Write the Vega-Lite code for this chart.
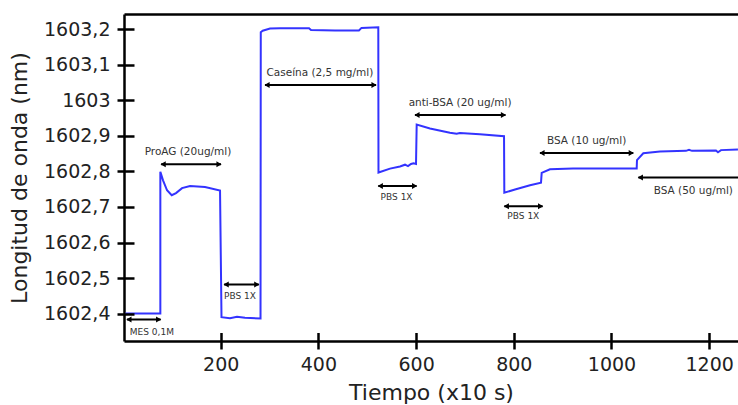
{
  "$schema": "https://vega.github.io/schema/vega-lite/v6.json",
  "width": 614,
  "height": 327,
  "autosize": {"type": "none"},
  "padding": {"left": 124, "top": 14, "right": 0, "bottom": 64},
  "background": "white",
  "config": {
    "view": {"stroke": null},
    "font": "DejaVu Sans",
    "axis": {"grid": false, "domainColor": "black", "tickColor": "black", "labelColor": "#222", "titleColor": "#222", "labelFont": "DejaVu Sans", "titleFont": "DejaVu Sans"}
  },
  "datasets": {
    "trace": [
      {"t": 5, "wl": 1602.4}, {"t": 76.4, "wl": 1602.4}, {"t": 76.4, "wl": 1602.799},
      {"t": 81.9, "wl": 1602.775}, {"t": 90.1, "wl": 1602.747}, {"t": 99.7, "wl": 1602.733},
      {"t": 108.5, "wl": 1602.739}, {"t": 120.8, "wl": 1602.753}, {"t": 137.2, "wl": 1602.759},
      {"t": 167.9, "wl": 1602.756}, {"t": 198.6, "wl": 1602.746}, {"t": 201.6, "wl": 1602.39},
      {"t": 219, "wl": 1602.387}, {"t": 233.4, "wl": 1602.391}, {"t": 249.7, "wl": 1602.388},
      {"t": 281.5, "wl": 1602.386}, {"t": 282, "wl": 1603.192}, {"t": 286, "wl": 1603.196},
      {"t": 300.9, "wl": 1603.202}, {"t": 321.4, "wl": 1603.203}, {"t": 380.8, "wl": 1603.203},
      {"t": 384.8, "wl": 1603.198}, {"t": 434, "wl": 1603.197}, {"t": 483, "wl": 1603.197},
      {"t": 488.2, "wl": 1603.204}, {"t": 522.6, "wl": 1603.206}, {"t": 523, "wl": 1602.797},
      {"t": 546.6, "wl": 1602.808}, {"t": 567, "wl": 1602.814}, {"t": 577.3, "wl": 1602.819},
      {"t": 583.4, "wl": 1602.815}, {"t": 589.6, "wl": 1602.821}, {"t": 594.7, "wl": 1602.823},
      {"t": 599.8, "wl": 1602.821}, {"t": 601.2, "wl": 1602.932}, {"t": 628.4, "wl": 1602.921},
      {"t": 669.3, "wl": 1602.909}, {"t": 683, "wl": 1602.906}, {"t": 689.6, "wl": 1602.908},
      {"t": 730.5, "wl": 1602.905}, {"t": 780, "wl": 1602.899}, {"t": 780.6, "wl": 1602.74},
      {"t": 802.5, "wl": 1602.749}, {"t": 833.2, "wl": 1602.761}, {"t": 855.7, "wl": 1602.768},
      {"t": 857.1, "wl": 1602.796}, {"t": 874, "wl": 1602.806}, {"t": 921.2, "wl": 1602.808},
      {"t": 976.5, "wl": 1602.808}, {"t": 1051.6, "wl": 1602.808}, {"t": 1052.2, "wl": 1602.832},
      {"t": 1065.1, "wl": 1602.851}, {"t": 1099.3, "wl": 1602.856}, {"t": 1152.5, "wl": 1602.858},
      {"t": 1158.7, "wl": 1602.861}, {"t": 1164.8, "wl": 1602.858}, {"t": 1213.9, "wl": 1602.859},
      {"t": 1218, "wl": 1602.854}, {"t": 1224.2, "wl": 1602.86}, {"t": 1258.9, "wl": 1602.862}
    ],
    "arrows": [
      {"x1": 8, "x2": 77, "y": 1602.383},
      {"x1": 78, "x2": 200.6, "y": 1602.82},
      {"x1": 207, "x2": 278, "y": 1602.482},
      {"x1": 290.7, "x2": 518, "y": 1603.043},
      {"x1": 522.6, "x2": 601, "y": 1602.759},
      {"x1": 597.7, "x2": 783, "y": 1602.959},
      {"x1": 780.6, "x2": 859, "y": 1602.702},
      {"x1": 853.6, "x2": 1044.6, "y": 1602.852},
      {"x1": 1055, "x2": 1300, "y": 1602.783}
    ],
    "labels": [
      {"x": 59, "y": 1602.347, "text": "MES 0,1M", "kind": "buffer"},
      {"x": 133, "y": 1602.854, "text": "ProAG (20ug/ml)", "kind": "analyte"},
      {"x": 239.5, "y": 1602.449, "text": "PBS 1X", "kind": "buffer"},
      {"x": 403, "y": 1603.076, "text": "Caseína (2,5 mg/ml)", "kind": "analyte"},
      {"x": 560, "y": 1602.727, "text": "PBS 1X", "kind": "buffer"},
      {"x": 690, "y": 1602.992, "text": "anti-BSA (20 ug/ml)", "kind": "analyte"},
      {"x": 819.5, "y": 1602.674, "text": "PBS 1X", "kind": "buffer"},
      {"x": 949, "y": 1602.885, "text": "BSA (10 ug/ml)", "kind": "analyte"},
      {"x": 1167.5, "y": 1602.745, "text": "BSA (50 ug/ml)", "kind": "analyte"}
    ]
  },
  "layer": [
    {
      "data": {"name": "trace"},
      "mark": {"type": "line", "color": "#3333ff", "strokeWidth": 2, "clip": true},
      "encoding": {
        "x": {"field": "t", "type": "quantitative", "scale": {"domain": [2, 1259], "nice": false, "zero": false},
          "axis": {"orient": "bottom", "values": [200, 400, 600, 800, 1000, 1200], "format": "d", "ticks": true, "tickSize": 8, "tickWidth": 2.5, "labelPadding": 6, "labelFontSize": 19, "labelFlush": false, "domainWidth": 2.5, "title": "Tiempo (x10 s)", "titleFontSize": 22, "titleFontWeight": "normal", "titlePadding": 8}},
        "y": {"field": "wl", "type": "quantitative", "scale": {"domain": [1602.3228, 1603.2431], "nice": false, "zero": false},
          "axis": {"orient": "left", "values": [1602.4, 1602.5, 1602.6, 1602.7, 1602.8, 1602.9, 1603, 1603.1, 1603.2], "labelExpr": "replace(format(datum.value, '.1~f'), '.', ',')", "ticks": true, "tickSize": 7, "tickWidth": 2.5, "labelPadding": 7, "labelFontSize": 19, "labelFlush": false, "domainWidth": 2.5, "title": "Longitud de onda (nm)", "titleFontSize": 22, "titleFontWeight": "normal", "titlePadding": 12}}
      }
    },
    {
      "data": {"name": "arrows"},
      "mark": {"type": "rule", "color": "black", "strokeWidth": 2, "clip": true},
      "encoding": {
        "x": {"field": "x1", "type": "quantitative", "scale": {"domain": [2, 1259], "nice": false, "zero": false},
          "axis": {"orient": "bottom", "values": [200, 400, 600, 800, 1000, 1200], "ticks": true, "tickSize": -8.5, "tickWidth": 2.5, "tickColor": "black", "labels": false, "domain": false, "title": "", "zindex": 1}},
        "x2": {"field": "x2"},
        "y": {"field": "y", "type": "quantitative", "scale": {"domain": [1602.3228, 1603.2431], "nice": false, "zero": false},
          "axis": {"orient": "left", "values": [1602.4, 1602.5, 1602.6, 1602.7, 1602.8, 1602.9, 1603, 1603.1, 1603.2], "ticks": true, "tickSize": -10, "tickWidth": 2.5, "tickColor": "black", "labels": false, "domain": false, "title": "", "zindex": 1}}
      }
    },
    {
      "data": {"name": "arrows"},
      "mark": {"type": "point", "shape": "triangle-left", "filled": true, "color": "black", "size": 36, "opacity": 1, "xOffset": 2, "clip": true},
      "encoding": {
        "x": {"field": "x1", "type": "quantitative", "scale": {"domain": [2, 1259], "nice": false, "zero": false},
          "axis": {"orient": "top", "ticks": false, "labels": false, "domain": true, "domainWidth": 2.5, "title": null}},
        "y": {"field": "y", "type": "quantitative", "scale": {"domain": [1602.3228, 1603.2431], "nice": false, "zero": false}, "axis": null}
      }
    },
    {
      "data": {"name": "arrows"},
      "mark": {"type": "point", "shape": "triangle-right", "filled": true, "color": "black", "size": 36, "opacity": 1, "xOffset": -2, "clip": true},
      "encoding": {
        "x": {"field": "x2", "type": "quantitative", "scale": {"domain": [2, 1259], "nice": false, "zero": false}, "axis": null},
        "y": {"field": "y", "type": "quantitative", "scale": {"domain": [1602.3228, 1603.2431], "nice": false, "zero": false}, "axis": null}
      }
    },
    {
      "data": {"name": "labels"},
      "transform": [{"filter": "datum.kind == 'analyte'"}],
      "mark": {"type": "text", "fontSize": 10.5, "color": "#333", "baseline": "middle", "align": "center"},
      "encoding": {
        "x": {"field": "x", "type": "quantitative", "scale": {"domain": [2, 1259], "nice": false, "zero": false}, "axis": null},
        "y": {"field": "y", "type": "quantitative", "scale": {"domain": [1602.3228, 1603.2431], "nice": false, "zero": false}, "axis": null},
        "text": {"field": "text"}
      }
    },
    {
      "data": {"name": "labels"},
      "transform": [{"filter": "datum.kind == 'buffer'"}],
      "mark": {"type": "text", "fontSize": 9, "color": "#333", "baseline": "middle", "align": "center"},
      "encoding": {
        "x": {"field": "x", "type": "quantitative", "scale": {"domain": [2, 1259], "nice": false, "zero": false}, "axis": null},
        "y": {"field": "y", "type": "quantitative", "scale": {"domain": [1602.3228, 1603.2431], "nice": false, "zero": false}, "axis": null},
        "text": {"field": "text"}
      }
    }
  ],
  "resolve": {"axis": {"x": "independent", "y": "independent"}}
}
